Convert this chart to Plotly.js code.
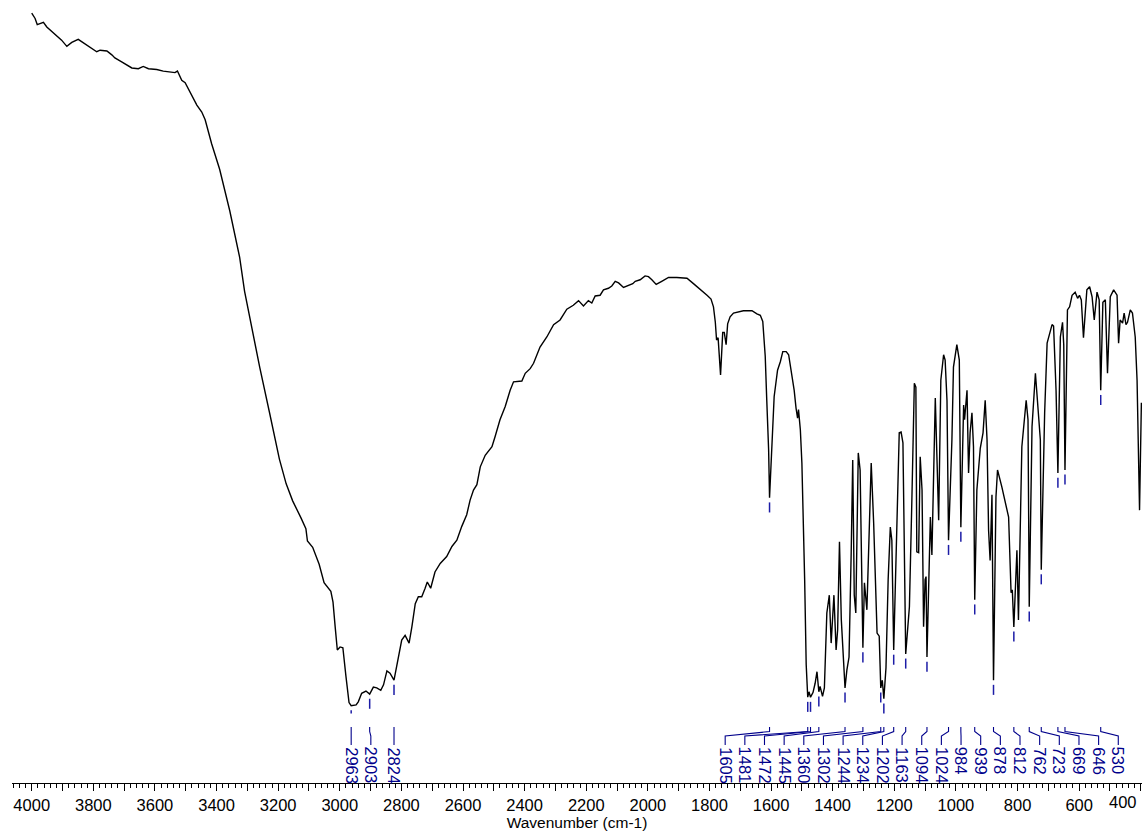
<!DOCTYPE html>
<html>
<head>
<meta charset="utf-8">
<script src="https://cdn.plot.ly/plotly-3.0.1.min.js"></script>
<style>
  html, body { margin: 0; padding: 0; background: #ffffff; }
  #chart { width: 1144px; height: 834px; }
</style>
</head>
<body>
<div id="chart"></div>
<script>
// IR spectrum: wavenumber (cm-1) and transmittance (%)
const wavenumber = [
  4000, 3989, 3982, 3973, 3962, 3951, 3935, 3914, 3903, 3886, 3870, 3849, 3838, 3816, 3789, 3778, 3756, 3740, 3730, 3708,
  3692, 3675, 3654, 3638, 3621, 3594, 3573, 3551, 3535, 3527, 3522, 3513, 3502, 3481, 3464, 3448, 3437, 3416, 3390, 3357,
  3325, 3309, 3293, 3260, 3228, 3196, 3174, 3153, 3126, 3110, 3105, 3088, 3067, 3051, 3029, 3022, 3015, 3008, 2999, 2990,
  2980, 2970, 2963, 2947, 2940, 2929, 2915, 2903, 2891, 2880, 2867, 2858, 2847, 2837, 2824, 2810, 2799, 2788, 2775, 2766,
  2755, 2745, 2734, 2723, 2716, 2705, 2691, 2674, 2653, 2636, 2620, 2604, 2588, 2577, 2566, 2555, 2544, 2528, 2506, 2496,
  2480, 2463, 2447, 2436, 2409, 2398, 2382, 2371, 2350, 2328, 2306, 2285, 2263, 2242, 2225, 2209, 2193, 2182, 2171, 2155,
  2144, 2128, 2117, 2106, 2095, 2079, 2063, 2049, 2041, 2025, 2009, 1998, 1987, 1973, 1955, 1933, 1906, 1873, 1852, 1830,
  1808, 1795, 1787, 1781, 1777, 1772, 1764, 1757, 1752, 1746, 1741, 1733, 1722, 1690, 1662, 1646, 1635, 1627, 1619, 1614,
  1608, 1605, 1597, 1590, 1579, 1570, 1562, 1551, 1543, 1532, 1525, 1519, 1514, 1511, 1505, 1500, 1495, 1491, 1486, 1481,
  1477, 1472, 1464, 1457, 1451, 1445, 1441, 1433, 1427, 1419, 1411, 1405, 1396, 1389, 1384, 1378, 1372, 1365, 1360, 1354,
  1347, 1340, 1335, 1330, 1325, 1317, 1311, 1302, 1297, 1289, 1275, 1267, 1256, 1249, 1244, 1239, 1234, 1227, 1220, 1213,
  1208, 1202, 1192, 1184, 1178, 1172, 1163, 1151, 1143, 1135, 1130, 1127, 1121, 1116, 1110, 1105, 1100, 1097, 1094, 1083,
  1078, 1067, 1056, 1049, 1040, 1035, 1029, 1024, 1013, 1008, 997, 989, 984, 975, 972, 964, 959, 954, 948, 943,
  939, 932, 921, 912, 905, 899, 894, 889, 883, 878, 870, 865, 851, 829, 821, 817, 812, 802, 797, 786,
  772, 766, 762, 753, 742, 734, 726, 723, 712, 704, 688, 683, 675, 669, 661, 654, 650, 646, 638, 631,
  623, 613, 605, 599, 593, 586, 575, 566, 558, 551, 542, 535, 530, 523, 515, 508, 499, 488, 477, 472,
  467, 459, 454, 448, 443, 434, 427, 418, 412, 404, 398
];
const transmittance = [
  99.6, 98.9, 98.1, 98.2, 98.4, 97.8, 97.2, 96.5, 96.1, 95.3, 95.8, 96.2, 95.9, 95.3, 94.6, 94.8, 94.7, 94.2, 93.8, 93.3,
  92.9, 92.5, 92.4, 92.7, 92.4, 92.3, 92.1, 92.0, 91.9, 92.1, 91.7, 90.9, 90.6, 89.0, 87.7, 86.8, 85.8, 82.7, 79.4, 74.0,
  68.0, 63.6, 60.4, 53.8, 47.9, 41.9, 38.7, 36.5, 34.3, 32.9, 31.3, 30.5, 28.3, 25.9, 24.8, 23.4, 20.2, 17.2, 17.6, 17.5,
  13.8, 10.4, 10.0, 10.1, 10.5, 11.6, 11.9, 11.5, 12.4, 12.3, 12.0, 12.7, 14.5, 14.2, 13.3, 16.3, 18.5, 19.1, 18.1, 20.2,
  23.2, 24.1, 24.1, 25.2, 26.0, 25.2, 27.3, 28.4, 29.3, 30.6, 31.4, 33.2, 34.7, 36.6, 37.9, 38.6, 40.9, 42.4, 43.5, 44.8,
  47.0, 48.7, 50.8, 51.9, 52.0, 53.0, 53.6, 54.3, 56.4, 57.7, 59.3, 59.9, 61.3, 61.8, 62.4, 61.7, 62.4, 62.1, 63.0, 63.1,
  63.8, 64.0, 64.3, 64.9, 64.7, 64.1, 64.4, 64.6, 64.9, 65.1, 65.6, 65.5, 65.1, 64.5, 64.9, 65.4, 65.4, 65.3, 64.6, 63.9,
  63.1, 62.6, 61.6, 59.6, 57.3, 57.6, 52.8, 58.3, 58.3, 56.7, 59.4, 60.3, 60.8, 61.1, 61.1, 60.7, 60.5, 59.7, 55.2, 49.5,
  43.1, 36.9, 44.8, 50.0, 53.4, 54.5, 55.8, 55.8, 55.4, 52.8, 50.8, 48.5, 47.2, 48.3, 45.7, 41.4, 33.6, 26.3, 15.3, 11.1,
  11.8, 11.1, 11.7, 12.9, 14.4, 11.8, 12.5, 11.2, 12.3, 22.0, 24.3, 18.1, 24.3, 17.2, 19.8, 31.2, 21.1, 16.3, 12.3, 14.6,
  16.3, 29.7, 41.8, 24.3, 22.0, 42.7, 40.5, 17.5, 25.9, 22.4, 41.4, 33.6, 19.4, 19.0, 12.3, 13.3, 10.9, 14.9, 26.3, 33.1,
  31.4, 17.2, 34.4, 45.3, 45.4, 44.0, 16.7, 22.8, 36.6, 51.7, 51.2, 29.9, 29.8, 42.2, 37.9, 20.2, 26.3, 26.7, 16.3, 34.4,
  29.5, 49.8, 34.0, 52.1, 55.4, 54.7, 49.5, 31.4, 44.4, 53.8, 56.7, 54.7, 33.1, 48.9, 47.0, 50.8, 40.1, 45.3, 47.9, 43.5,
  23.7, 37.9, 43.3, 45.3, 49.5, 44.4, 32.7, 28.8, 37.3, 13.3, 37.0, 40.5, 38.3, 34.4, 24.6, 25.0, 20.2, 30.1, 21.1, 43.5,
  49.5, 47.0, 22.8, 46.1, 53.0, 49.2, 44.4, 27.6, 47.9, 56.9, 59.3, 59.1, 50.8, 40.1, 57.7, 59.6, 56.7, 40.5, 61.2, 61.6,
  63.1, 63.5, 62.7, 63.1, 62.5, 57.6, 63.8, 64.2, 62.9, 59.9, 63.5, 62.5, 50.8, 62.2, 62.5, 53.0, 62.9, 63.8, 63.1, 56.9,
  59.9, 59.5, 60.8, 59.3, 59.6, 61.2, 60.8, 57.7, 52.1, 35.3, 49.2
];

// Picked peaks (cm-1)
const peaksCH = [2963, 2903, 2824];
const peaksFingerprint = [1605, 1481, 1472, 1445, 1360, 1302, 1244, 1234, 1202, 1163, 1094,
                          1024, 984, 939, 878, 812, 762, 723, 669, 646, 530];

// Labelled axis ticks
const axisTickLabels = ['4000', '3800', '3600', '3400', '3200', '3000', '2800', '2600', '2400', '2200',
                        '2000', '1800', '1600', '1400', '1200', '1000', '800', '600', '400'];

const NAVY = '#00008b';
const MARK = '#1c1ca6';
const FONT = 'Liberation Sans, Arial, sans-serif';
const X_RANGE = [4064, 396];

// transmittance at the bottom of each picked band
function bandMinimum(peak) {
  let m = Infinity;
  for (let i = 0; i < wavenumber.length; i++) {
    if (Math.abs(wavenumber[i] - peak) <= 5 && transmittance[i] < m) m = transmittance[i];
  }
  return m;
}

const allPeaks = peaksCH.concat(peaksFingerprint);

// short tick under each band, kept above the label strip
const markX = [], markY = [];
allPeaks.forEach(p => {
  const t = bandMinimum(p);
  const top = Math.max(t - 0.6, 9.0);
  const bottom = Math.max(t - 1.9, 9.0);
  markX.push(p, p, null);
  markY.push(top, bottom, null);
});

// label slots: C-H labels pushed apart, fingerprint labels evenly spread
const slotGap = 63.8;
const slotsCH = [];
peaksCH.forEach((p, i) => {
  slotsCH.push(i === 0 ? p : Math.min(p, slotsCH[i - 1] - slotGap));
});
const fingerprintStart = 1749;
const slotsFP = peaksFingerprint.map((p, i) => fingerprintStart - i * slotGap);

const Y0 = 0.0724, Y1 = 0.0666, Y2 = 0.0608, Y3 = 0.0492, TEXT_TOP = 0.0480;

const shapes = [];
const annotations = [];
function addLabel(peak, slot) {
  shapes.push({
    type: 'path', xref: 'x', yref: 'paper',
    path: `M${peak},${Y0} L${peak},${Y1} L${slot},${Y2} L${slot},${Y3}`,
    line: { color: NAVY, width: 1.1 }
  });
  annotations.push({
    x: slot, xref: 'x', y: TEXT_TOP, yref: 'paper',
    text: String(peak), textangle: 90, showarrow: false,
    xanchor: 'center', yanchor: 'top', borderpad: 0,
    font: { family: FONT, size: 16.5, color: NAVY }
  });
}
peaksCH.forEach((p, i) => addLabel(p, slotsCH[i]));
peaksFingerprint.forEach((p, i) => addLabel(p, slotsFP[i]));

// major ticks every 100 cm-1, labels every 200 cm-1
const tickVals = [], tickText = [];
for (let v = 4000; v >= 400; v -= 100) {
  tickVals.push(v);
  const lbl = axisTickLabels.indexOf(String(v));
  tickText.push(lbl >= 0 && v !== 400 ? axisTickLabels[lbl] : '');
}
// the last tick label sits against the right edge
annotations.push({
  x: 1, xref: 'paper', y: 0, yref: 'paper', xanchor: 'right', yanchor: 'top',
  yshift: -9, xshift: -4, showarrow: false, borderpad: 0,
  text: axisTickLabels[axisTickLabels.length - 1],
  font: { family: FONT, size: 16.5, color: '#000' }
});

const traces = [
  {
    x: wavenumber, y: transmittance, type: 'scatter', mode: 'lines',
    line: { color: '#000000', width: 1.4 }, hoverinfo: 'skip'
  },
  {
    x: markX, y: markY, type: 'scatter', mode: 'lines',
    line: { color: MARK, width: 1.5 }, hoverinfo: 'skip'
  }
];

const layout = {
  width: 1144, height: 834,
  margin: { l: 12, r: 2, t: 10, b: 51 },
  paper_bgcolor: '#ffffff', plot_bgcolor: '#ffffff',
  showlegend: false,
  font: { family: FONT, color: '#000' },
  xaxis: {
    range: X_RANGE, autorange: false,
    showgrid: false, zeroline: false,
    showline: true, linecolor: '#000', linewidth: 1,
    ticks: 'outside', ticklen: 7, tickwidth: 1, tickcolor: '#000',
    tickmode: 'array', tickvals: tickVals, ticktext: tickText,
    tickfont: { family: FONT, size: 16.5, color: '#000' },
    minor: { tickmode: 'linear', tick0: 0, dtick: 20, ticks: 'outside', ticklen: 4, tickwidth: 1, tickcolor: '#000' },
    title: { text: 'Wavenumber (cm-1)', font: { family: FONT, size: 15.5, color: '#000' }, standoff: 2 }
  },
  yaxis: { range: [0, 100], visible: false, fixedrange: true },
  shapes: shapes,
  annotations: annotations
};

Plotly.newPlot('chart', traces, layout, { displayModeBar: false, staticPlot: true });
</script>
</body>
</html>
